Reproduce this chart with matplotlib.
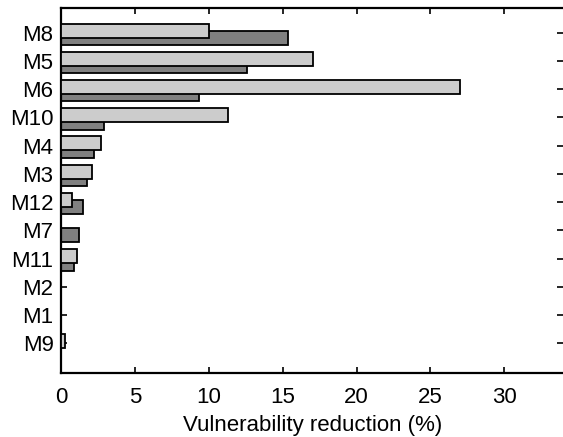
import matplotlib
matplotlib.use("Agg")
import matplotlib.pyplot as plt
import numpy as np

# categories listed top to bottom as they appear in the chart
measures = ["M8", "M5", "M6", "M10", "M4", "M3", "M12", "M7", "M11", "M2", "M1", "M9"]
light_values = [10.0, 17.05, 27.0, 11.27, 2.67, 2.06, 0.75, 0.0, 1.09, 0.0, 0.0, 0.25]
dark_values = [15.38, 12.6, 9.33, 2.9, 2.2, 1.72, 1.45, 1.23, 0.85, 0.0, 0.0, 0.0]

plt.rcParams["font.family"] = ["Liberation Sans", "DejaVu Sans"]

fig = plt.figure(figsize=(5.63, 4.37), dpi=100)
ax = fig.add_axes([0.1087, 0.1471, 0.8920, 0.8357])

pos = np.arange(len(measures), 0, -1)
bar_h = 0.5

ax.barh(pos - 0.18, dark_values, height=bar_h, color="#808080",
        edgecolor="black", linewidth=1.3, zorder=2)
ax.barh(pos + 0.08, light_values, height=bar_h, color="#cccccc",
        edgecolor="black", linewidth=1.3, zorder=3)

ax.set_xlim(0, 34)
ax.set_ylim(-0.05, 12.9)
ax.set_xticks([0, 5, 10, 15, 20, 25, 30])
ax.set_yticks(pos)
ax.set_yticklabels(measures)

ax.tick_params(axis="both", direction="in", length=4, width=1.2,
               labelsize=16, top=True, right=True)
ax.tick_params(axis="x", pad=10)
ax.tick_params(axis="y", pad=5.5)

for side in ("left", "bottom", "top"):
    ax.spines[side].set_linewidth(1.6)
ax.spines["right"].set_visible(False)

ax.set_xlabel("Vulnerability reduction (%)", fontsize=16, labelpad=5.5)

fig.savefig("out.png", dpi=100)
